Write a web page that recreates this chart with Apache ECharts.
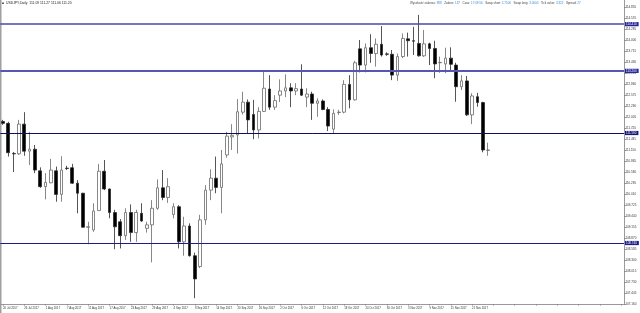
<!DOCTYPE html>
<html><head><meta charset="utf-8">
<script src="https://cdn.jsdelivr.net/npm/echarts@6/dist/echarts.min.js"></script>
<style>html,body{margin:0;padding:0;background:#fff}#c{width:640px;height:313px}</style>
</head><body><div id="c"></div>
<script>
const dates = ['20 Jul 2017','21 Jul 2017','24 Jul 2017','25 Jul 2017','26 Jul 2017','27 Jul 2017','28 Jul 2017','31 Jul 2017',
'1 Aug 2017','2 Aug 2017','3 Aug 2017','4 Aug 2017','7 Aug 2017','8 Aug 2017','9 Aug 2017','10 Aug 2017','11 Aug 2017',
'14 Aug 2017','15 Aug 2017','16 Aug 2017','17 Aug 2017','18 Aug 2017','21 Aug 2017','22 Aug 2017','23 Aug 2017','24 Aug 2017',
'25 Aug 2017','28 Aug 2017','29 Aug 2017','30 Aug 2017','31 Aug 2017',
'1 Sep 2017','4 Sep 2017','5 Sep 2017','6 Sep 2017','7 Sep 2017','8 Sep 2017','11 Sep 2017','12 Sep 2017','13 Sep 2017',
'14 Sep 2017','15 Sep 2017','18 Sep 2017','19 Sep 2017','20 Sep 2017','21 Sep 2017','22 Sep 2017','25 Sep 2017','26 Sep 2017',
'27 Sep 2017','28 Sep 2017','29 Sep 2017',
'2 Oct 2017','3 Oct 2017','4 Oct 2017','5 Oct 2017','6 Oct 2017','9 Oct 2017','10 Oct 2017','11 Oct 2017','12 Oct 2017',
'13 Oct 2017','16 Oct 2017','17 Oct 2017','18 Oct 2017','19 Oct 2017','20 Oct 2017','23 Oct 2017','24 Oct 2017','25 Oct 2017',
'26 Oct 2017','27 Oct 2017','30 Oct 2017','31 Oct 2017',
'1 Nov 2017','2 Nov 2017','3 Nov 2017','6 Nov 2017','7 Nov 2017','8 Nov 2017','9 Nov 2017','10 Nov 2017','13 Nov 2017',
'14 Nov 2017','15 Nov 2017','16 Nov 2017','17 Nov 2017','20 Nov 2017','21 Nov 2017','22 Nov 2017','23 Nov 2017','24 Nov 2017'];

const opens = [111.89,111.84,111.06,111.05,111.82,111.12,111.17,110.61,110.20,110.30,
110.61,110.00,110.68,110.69,110.29,110.03,109.15,109.08,109.58,110.60,
110.14,109.53,109.29,108.93,109.53,109.01,109.51,109.12,109.21,109.64,
110.17,109.92,109.48,109.68,108.77,109.18,108.41,108.13,109.34,110.11,
110.42,110.18,111.02,111.49,111.54,112.13,112.39,112.07,111.67,112.15,
112.73,112.26,112.57,112.68,112.76,112.68,112.73,112.52,112.60,112.36,
112.42,112.20,111.69,112.12,112.13,112.85,112.45,113.77,113.35,113.80,
113.65,113.89,113.64,113.63,113.09,113.57,114.03,113.98,113.91,113.59,
113.90,113.78,113.41,113.38,113.53,113.35,112.79,112.94,112.06,112.53,
112.38,111.14];
const closes = [111.84,111.08,111.05,111.82,111.12,111.17,110.63,110.20,110.31,110.63,
110.00,110.63,110.67,110.29,110.03,109.15,109.16,109.57,110.60,110.14,
109.53,109.16,108.93,109.53,109.01,109.53,109.31,109.21,109.64,110.17,
109.92,110.20,109.68,108.77,109.18,108.41,107.81,109.34,110.11,110.42,
110.18,110.79,111.51,111.53,112.14,112.39,111.93,111.67,112.15,112.75,
112.26,112.43,112.68,112.76,112.68,112.74,112.57,112.60,112.36,112.42,
112.20,111.77,112.10,112.13,112.85,112.45,113.41,113.35,113.80,113.65,
113.89,113.61,113.63,113.09,113.57,114.04,113.98,113.97,113.59,113.90,
113.78,113.38,113.42,113.53,113.37,112.79,112.94,112.06,112.55,112.38,
111.15,111.15];
const highs = [111.93,111.88,111.10,111.93,112.13,111.62,111.28,110.70,110.55,110.92,
110.72,110.99,110.74,110.79,110.37,110.04,109.29,109.77,110.79,110.89,
110.15,109.60,109.36,109.64,109.74,109.60,109.77,109.29,109.85,110.39,
110.63,110.42,109.77,109.72,109.42,109.25,108.49,109.47,110.24,110.65,
110.98,111.15,111.62,111.82,112.47,112.66,112.46,112.45,112.26,113.18,
113.09,112.57,112.98,113.11,112.88,112.88,113.37,112.75,112.66,112.49,
112.46,112.26,112.20,112.19,112.96,113.09,113.46,114.00,113.91,114.15,
114.04,114.36,113.68,113.74,113.65,114.17,114.19,114.34,114.65,114.26,
113.93,113.98,113.57,113.80,113.81,113.41,113.09,113.07,112.62,112.63,
112.40,111.34];
const lows = [111.80,110.98,110.58,111.02,111.00,110.76,110.55,110.17,109.87,110.29,
109.81,109.81,110.63,110.27,109.51,109.14,108.71,109.03,109.57,110.11,
109.38,108.58,108.60,108.82,108.77,108.77,109.29,109.01,108.24,109.60,
109.85,109.78,109.38,108.60,108.41,108.39,107.31,108.09,109.21,109.85,
110.03,109.51,110.95,111.15,111.06,112.07,111.58,111.43,111.45,112.14,
112.19,112.19,112.39,112.52,112.26,112.57,112.55,112.26,111.93,112.01,
112.18,111.64,111.58,112.06,112.10,112.23,112.43,113.16,113.16,113.41,
113.31,113.57,113.59,112.96,112.94,113.53,113.57,113.61,113.57,113.56,
113.35,113.01,113.15,113.14,113.22,112.40,112.70,112.03,111.82,112.27,
111.09,111.00];

const levels = [114.41, 113.20, 111.59, 108.74];
const currentPrice = 111.15;
const yTickMin = 107.16, yTickStep = 0.285, yTop = 115.036;
const titleText = 'USDJPY,Daily  111.09 111.27 111.06 111.20';

const totalSlots = 117;
const categories = dates.concat(new Array(totalSlots - dates.length).fill(''));
const candles = opens.map((o, i) => [o, closes[i], lows[i], highs[i]]);
const FONT = 'Liberation Sans, Arial, sans-serif';

const levelStyles = [
  {line: '#4a4aaa', w: 1.6, bg: '#25259a'},
  {line: '#5656b4', w: 1.9, bg: '#25259a'},
  {line: '#0d0d66', w: 1.0, bg: '#14147a'},
  {line: '#1c1c86', w: 1.2, bg: '#1c1c8c'}
];
const markData = levels.map((v, i) => ({
  yAxis: v,
  lineStyle: {color: levelStyles[i].line, width: levelStyles[i].w, type: 'solid'},
  label: {backgroundColor: levelStyles[i].bg}
}));
markData.push({yAxis: currentPrice, lineStyle: {opacity: 0, width: 0}, label: {backgroundColor: '#000'}});

const chart = echarts.init(document.getElementById('c'), null, {renderer: 'canvas'});
chart.setOption({
  animation: false,
  backgroundColor: '#fff',
  grid: {left: -1, right: 16, top: 0, bottom: 9, containLabel: false},
  xAxis: {
    type: 'category', data: categories, boundaryGap: true,
    axisLine: {show: true, lineStyle: {color: '#9a9a9a', width: 1}},
    axisTick: {show: true, interval: 3, alignWithLabel: true, length: 1.5, lineStyle: {color: '#888'}},
    axisLabel: {interval: 3, fontSize: 2.8, color: '#333', fontFamily: FONT, align: 'left', margin: 2.5, hideOverlap: false},
    splitLine: {show: false}
  },
  yAxis: {
    type: 'value', position: 'right', scale: true,
    min: yTickMin, max: yTop, interval: yTickStep,
    axisLine: {show: true, lineStyle: {color: '#9a9a9a', width: 1}},
    axisTick: {show: true, length: 1.8, lineStyle: {color: '#888'}},
    axisLabel: {fontSize: 3, color: '#333', fontFamily: FONT, margin: 1.5, showMaxLabel: false,
      formatter: v => v.toFixed(3)},
    splitLine: {show: false}
  },
  series: [{
    type: 'candlestick',
    data: candles,
    barWidth: 3.2,
    itemStyle: {color: '#ffffff', color0: '#000000', borderColor: '#6a6a6a', borderColor0: '#2a2a2a', borderWidth: 0.8},
    markLine: {
      silent: true, symbol: ['none', 'none'], animation: false,
      label: {show: true, position: 'end', distance: 1, color: '#fff', fontSize: 3, fontFamily: FONT,
        padding: [0.7, 2, 0.5, 1], formatter: p => p.value.toFixed(3)},
      data: markData
    }
  }],
  graphic: [
    {type: 'line', shape: {x1: 0.75, y1: 0, x2: 0.75, y2: 313}, style: {stroke: '#a0a0a0', lineWidth: 1.5}},
    {type: 'rect', shape: {x: 2.2, y: 2.6, width: 1.6, height: 1.4}, style: {fill: '#333'}},
    {type: 'text', left: 6, top: 1.6, style: {text: titleText, font: '3.4px ' + FONT, fill: '#222'}},
    {type: 'text', left: 410, top: 1.6, style: {
      font: '3px ' + FONT, fill: '#444',
      text: '{l|Wysokość zakresu:} {v|888}   {l|Zakres:} {v|137}   {l|Czas:} {v|17:09:56}   {l|Swap short:} {v|2.7500}   {l|Swap long:} {v|3.0000}   {l|Tick value:} {v|3.322}   {l|Spread:} {v|27}',
      rich: {l: {fontSize: 3, fontFamily: FONT, fill: '#444'}, v: {fontSize: 3, fontFamily: FONT, fill: '#3a8ad8'}}
    }}
  ]
});
</script></body></html>
